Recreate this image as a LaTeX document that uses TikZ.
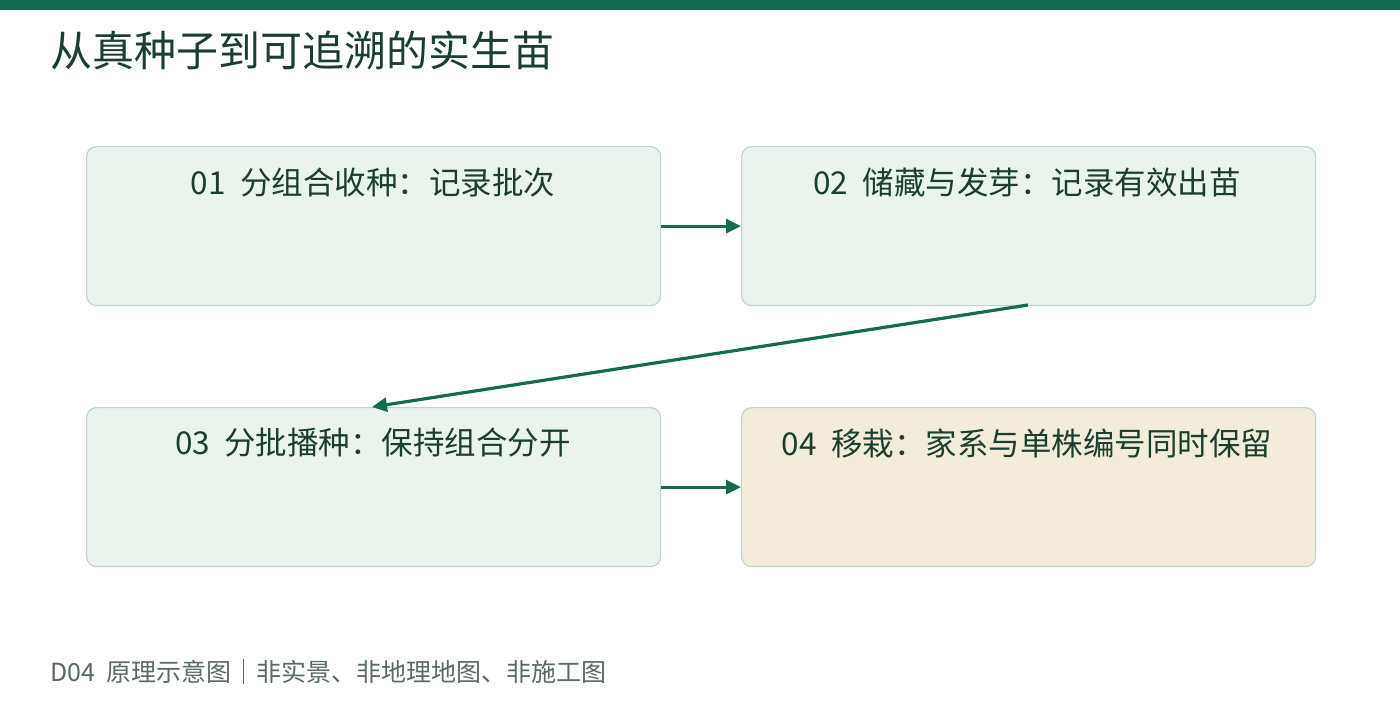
\documentclass[tikz,border=0pt]{standalone}
\usepackage{fontspec}
\setmainfont{Noto Sans CJK SC}
\usetikzlibrary{arrows.meta}
\definecolor{dg}{HTML}{156B50}
\definecolor{tx}{HTML}{1B3F2F}
\definecolor{bf}{HTML}{EAF3EE}
\definecolor{bd}{HTML}{B9D6C8}
\definecolor{wf}{HTML}{F3ECDA}
\definecolor{ft}{HTML}{5A6B63}
\begin{document}
\begin{tikzpicture}[x=1pt,y=-1pt,
 box/.style={draw=bd,line width=1.2pt,fill=bf,rounded corners=10pt,minimum width=574pt,minimum height=159pt,anchor=north west,inner sep=0pt},
 lbl/.style={font=\fontsize{31.5}{34}\selectfont,text=tx,anchor=center},
 arr/.style={draw=dg,line width=3.2pt,-{Triangle[length=15pt,width=14pt]}}]
\useasboundingbox (0,0) rectangle (1400,720);
\fill[dg] (0,0) rectangle (1400,10);
\node[anchor=west,text=tx,font=\fontsize{42}{46}\selectfont,inner sep=0pt] (title) at (50,50) {从真种子到可追溯的实生苗};
\node[box] (b1) at (86,146) {};
\node[box] (b2) at (741,146) {};
\node[box] (b3) at (86,407) {};
\node[box,fill=wf] (b4) at (741,407) {};
\node[lbl] (t1) at (373,183) {01\ \ 分组合收种：记录批次};
\node[lbl] (t2) at (1027,183) {02\ \ 储藏与发芽：记录有效出苗};
\node[lbl] (t3) at (373,443) {03\ \ 分批播种：保持组合分开};
\node[lbl] (t4) at (1027,443) {04\ \ 移栽：家系与单株编号同时保留};
\coordinate (s2) at (1028,305);
\coordinate (e3) at (372,407);
\draw[arr] (b1.east) -- (b2.west);
\draw[arr] (s2) -- (e3);
\draw[arr] (b3.east) -- (b4.west);
\node[anchor=west,text=ft,font=\fontsize{25}{28}\selectfont,inner sep=0pt] (foot) at (50,672) {D04\ \ 原理示意图｜非实景、非地理地图、非施工图};
\end{tikzpicture}
\end{document}
